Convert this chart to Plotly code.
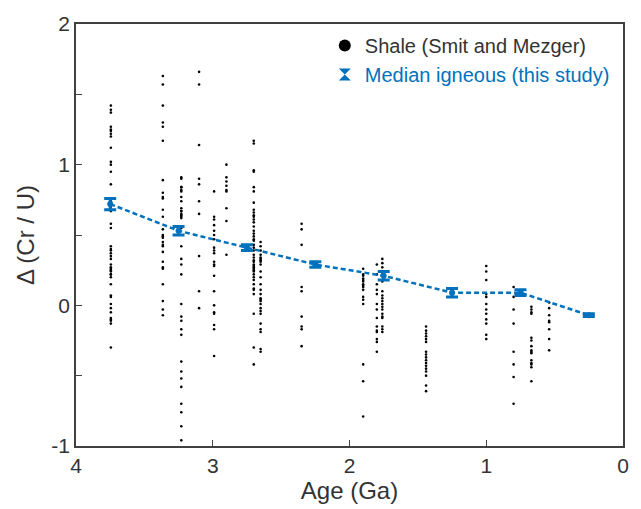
import plotly.graph_objects as go

# ---- Data ----
# Shale data (Smit and Mezger): ages (Ga) of each vertical column and Δ(Cr/U) values in it
shale_col_ages = [3.745, 3.365, 3.23, 3.10, 2.99, 2.90, 2.70, 2.65, 2.35,
                  1.90, 1.80, 1.76, 1.44, 1.00, 0.80, 0.67, 0.54]
shale_col_values = [
    [1.42, 1.39, 1.37, 1.27, 1.25, 1.24, 1.22, 1.20, 1.12, 1.02, 1.00, 0.95, 0.86, 0.74, 0.73,
     0.70, 0.67, 0.58, 0.55, 0.42, 0.40, 0.39, 0.37, 0.35, 0.33, 0.29, 0.27, 0.26, 0.25, 0.24,
     0.22, 0.22, 0.20, 0.15, 0.07, 0.06, 0.01, -0.02, -0.05, -0.09, -0.10, -0.11, -0.13, -0.30],
    [1.63, 1.57, 1.42, 1.30, 1.27, 1.17, 0.89, 0.80, 0.77, 0.76, 0.68, 0.63, 0.54, 0.50, 0.49,
     0.48, 0.45, 0.43, 0.42, 0.38, 0.31, 0.27, 0.26, 0.15, 0.03, -0.03, -0.07],
    [0.91, 0.90, 0.84, 0.84, 0.82, 0.81, 0.77, 0.74, 0.69, 0.67, 0.67, 0.65, 0.64, 0.63, 0.62,
     0.56, 0.55, 0.42, 0.33, 0.29, 0.22, 0.01, -0.08, -0.11, -0.17, -0.21, -0.40, -0.47,
     -0.52, -0.58, -0.70, -0.76, -0.86, -0.96],
    [1.66, 1.57, 1.14, 0.90, 0.86, 0.74, 0.65, 0.35, 0.10, -0.02],
    [0.81, 0.63, 0.61, 0.57, 0.53, 0.50, 0.47, 0.41, 0.39, 0.37, 0.31, 0.29, 0.28, 0.21, 0.10,
     0.00, -0.05, -0.06, -0.14, -0.17, -0.36],
    [1.00, 0.91, 0.88, 0.85, 0.82, 0.81, 0.69, 0.60, 0.36],
    [1.17, 1.15, 0.96, 0.95, 0.84, 0.81, 0.73, 0.68, 0.66, 0.64, 0.63, 0.61, 0.59, 0.56, 0.53,
     0.51, 0.49, 0.47, 0.46, 0.43, 0.41, 0.39, 0.36, 0.34, 0.32, 0.31, 0.29, 0.28, 0.27, 0.26,
     0.25, 0.24, 0.22, 0.20, 0.18, 0.15, 0.12, 0.11, 0.08, -0.06, -0.30, -0.42],
    [0.45, 0.42, 0.39, 0.36, 0.34, 0.32, 0.33, 0.31, 0.29, 0.24, 0.20, 0.15, 0.11, 0.08, 0.05,
     0.04, 0.03, 0.01, -0.02, -0.04, -0.06, -0.13, -0.17, -0.19, -0.31, -0.33],
    [0.58, 0.54, 0.43, 0.13, 0.10, -0.08, -0.15, -0.17, -0.29],
    [0.26, 0.22, 0.21, 0.19, 0.18, 0.17, 0.15, 0.14, 0.13, 0.11, 0.06, 0.04, 0.01, -0.42,
     -0.54, -0.79],
    [0.29, 0.22, 0.15, 0.11, 0.08, 0.01, -0.03, -0.09, -0.15, -0.18, -0.19, -0.24, -0.26, -0.33],
    [0.33, 0.30, 0.27, 0.24, 0.22, 0.17, 0.10, 0.07, 0.05, 0.03, 0.01, -0.01, -0.03, -0.06,
     -0.08, -0.09, -0.15, -0.17, -0.19],
    [-0.15, -0.18, -0.20, -0.22, -0.24, -0.26, -0.33, -0.35, -0.37, -0.39, -0.41, -0.43,
     -0.45, -0.47, -0.50, -0.57, -0.61],
    [0.28, 0.24, 0.18, 0.08, 0.06, 0.01, -0.03, -0.06, -0.10, -0.13, -0.21, -0.24],
    [0.13, 0.06, -0.03, -0.13, -0.33, -0.42, -0.51, -0.70],
    [-0.01, -0.03, -0.05, -0.06, -0.23, -0.25, -0.29, -0.32, -0.33, -0.34, -0.39, -0.41,
     -0.42, -0.44, -0.54],
    [0.02, -0.02, -0.07, -0.11, -0.12, -0.17, -0.24, -0.32],
]

# Median igneous (this study)
median_age = [3.75, 3.25, 2.75, 2.25, 1.75, 1.25, 0.75, 0.25]
median_delta = [0.72, 0.53, 0.41, 0.29, 0.21, 0.09, 0.09, -0.07]
median_err = [0.04, 0.03, 0.02, 0.02, 0.03, 0.03, 0.02, 0.01]

x_ticks = [4, 3, 2, 1, 0]
y_ticks = [-1, -0.5, 0, 0.5, 1, 1.5, 2]
y_ticktext = ["-1", "", "0", "", "1", "", "2"]

# ---- Build ----
shale_x, shale_y = [], []
for a, vals in zip(shale_col_ages, shale_col_values):
    shale_x += [a] * len(vals)
    shale_y += vals

blue = "#0072BD"
fig = go.Figure()
fig.add_trace(go.Scatter(
    x=shale_x, y=shale_y, mode="markers", name="Shale (Smit and Mezger)",
    marker=dict(color="black", size=2.6, line=dict(width=0)),
))
fig.add_trace(go.Scatter(
    x=median_age, y=median_delta, mode="lines", showlegend=False,
    line=dict(color=blue, width=2.5, dash="5px,3px"),
))
fig.add_trace(go.Scatter(
    x=median_age, y=median_delta, mode="markers", showlegend=False,
    marker=dict(color=blue, size=6, symbol="circle"),
    error_y=dict(type="data", array=median_err, color=blue, thickness=3, width=6),
))
# legend-only entry with an error-bar-like glyph
fig.add_trace(go.Scatter(
    x=[None], y=[None], mode="markers", name="Median igneous (this study)",
    marker=dict(color=blue, size=9, symbol="hourglass"),
))

font = "Liberation Sans, Arial, sans-serif"
fig.update_layout(
    width=641, height=509,
    margin=dict(l=76, r=16, t=17, b=61),
    paper_bgcolor="white", plot_bgcolor="white",
    font=dict(family=font, color="#333333", size=20),
    showlegend=True,
    legend=dict(x=0.985, y=0.995, xanchor="right", yanchor="top",
                bgcolor="rgba(0,0,0,0)", font=dict(size=20),
                itemsizing="constant"),
)
fig.update_xaxes(
    range=[4, 0], tickvals=x_ticks, ticks="inside", ticklen=6,
    showline=True, linecolor="#404040", linewidth=1.5, mirror=True,
    showgrid=False, zeroline=False,
    title=dict(text="Age (Ga)", font=dict(size=24), standoff=3),
    tickfont=dict(size=21),
)
fig.update_yaxes(
    range=[-1, 2], tickvals=y_ticks, ticktext=y_ticktext, ticks="inside", ticklen=6,
    showline=True, linecolor="#404040", linewidth=1.5, mirror=True,
    showgrid=False, zeroline=False,
    title=dict(text="Δ (Cr / U)", font=dict(size=24), standoff=10),
    tickfont=dict(size=21),
)

fig.write_html("out.html")

# colour the legend text of the median entry blue, as in the reference
html = open("out.html").read()
js = """
<script>
(function(){
  function paint(){
    var t = document.querySelectorAll('.legend .traces .legendtext');
    if (t.length >= 2) { t[1].style.fill = '%s'; return true; }
    return false;
  }
  var n = 0;
  var iv = setInterval(function(){ if (paint() || ++n > 100) clearInterval(iv); }, 20);
})();
</script>
</body>""" % blue
html = html.replace("</body>", js, 1)
open("out.html", "w").write(html)
